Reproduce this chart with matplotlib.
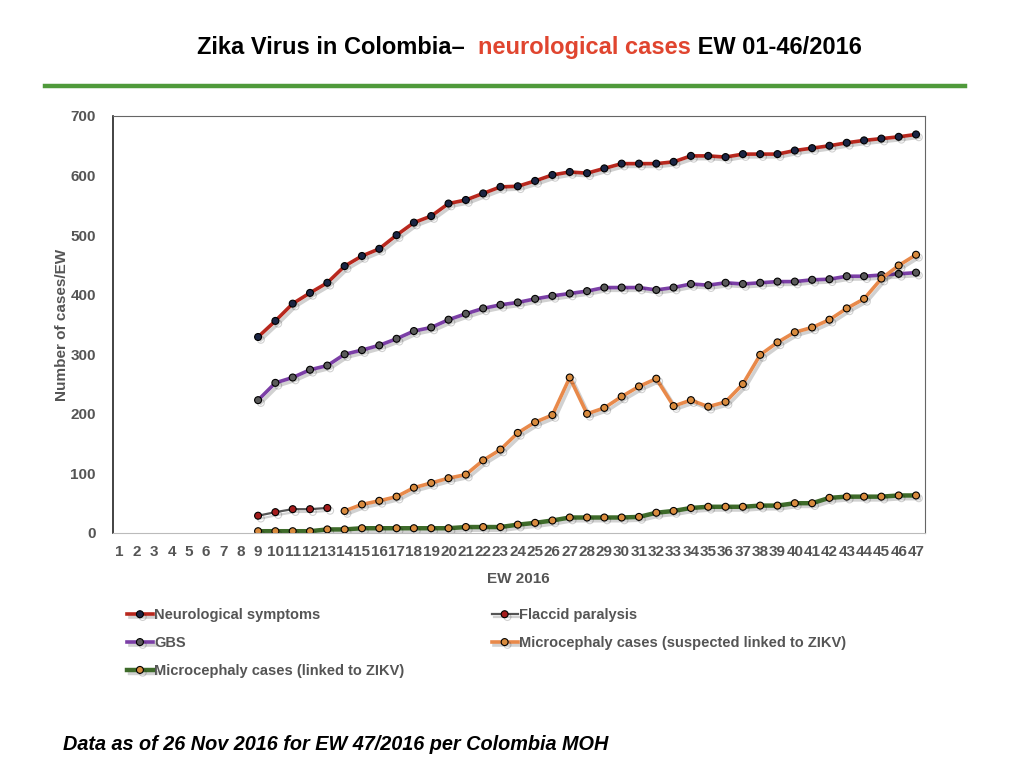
import numpy as np
import matplotlib
matplotlib.use("Agg")
import matplotlib.pyplot as plt
import matplotlib.patheffects as pe

# weeks 1..47 on the axis, data starts at week 9
weeks_axis = list(range(1, 48))
weeks_all = list(range(9, 48))
weeks_flaccid = list(range(9, 14))
weeks_suspected = list(range(14, 48))

neuro = [329, 356, 385, 403, 420, 448, 465, 477, 500, 521, 532, 553, 559, 570, 581, 582,
         591, 601, 606, 604, 612, 620, 620, 620, 623, 633, 633, 631, 636, 636, 636, 642,
         646, 650, 655, 659, 662, 665, 669]
gbs = [223, 252, 261, 274, 281, 300, 307, 315, 326, 339, 345, 358, 368, 377, 383, 387,
       393, 398, 402, 406, 412, 412, 412, 408, 412, 418, 416, 420, 418, 420, 422, 422,
       425, 426, 431, 431, 433, 435, 437]
flaccid = [29, 35, 40, 40, 42]
suspected = [37, 48, 54, 61, 76, 84, 92, 98, 122, 140, 168, 186, 198, 261, 200, 210,
             229, 246, 259, 213, 223, 212, 220, 250, 299, 320, 337, 345, 358, 377, 393,
             427, 449, 467]
linked = [3, 3, 3, 3, 6, 6, 8, 8, 8, 8, 8, 8, 10, 10, 10, 14, 17, 21, 26, 26, 26, 26,
          27, 34, 37, 42, 44, 44, 44, 46, 46, 50, 50, 59, 61, 61, 61, 63, 63]

plt.rcParams['font.family'] = ['Liberation Sans', 'DejaVu Sans']

grey = "#555555"
fig = plt.figure(figsize=(10.24, 7.68), dpi=100)
ax = fig.add_axes([0.110, 0.306, 0.793, 0.543])

shadow = [pe.SimpleLineShadow(offset=(2, -2), alpha=0.18, shadow_color="black"), pe.Normal()]

ax.plot(weeks_all, neuro, color="#b8281e", lw=2.6, marker="o", ms=5,
        mfc="#1b2544", mec="black", mew=0.8, label="Neurological symptoms", path_effects=shadow)
ax.plot(weeks_all, gbs, color="#7b3fa6", lw=2.6, marker="o", ms=5,
        mfc="#5a5a5a", mec="black", mew=0.8, label="GBS", path_effects=shadow)
ax.plot(weeks_all, linked, color="#3e6b2a", lw=3.2, marker="o", ms=5,
        mfc="#d98b3e", mec="black", mew=0.8, label="Microcephaly cases (linked to ZIKV)",
        path_effects=shadow)
ax.plot(weeks_flaccid, flaccid, color="#555555", lw=1.6, marker="o", ms=5,
        mfc="#a41c1c", mec="black", mew=0.8, label="Flaccid paralysis", path_effects=shadow)
ax.plot(weeks_suspected, suspected, color="#e8894a", lw=2.6, marker="o", ms=5,
        mfc="#d98b3e", mec="black", mew=0.8,
        label="Microcephaly cases (suspected linked to ZIKV)", path_effects=shadow)

ax.set_xlim(0.6, 47.5)
ax.set_ylim(0, 700)
ax.set_xticks(weeks_axis)
ax.set_xticklabels([str(w) for w in weeks_axis])
ax.set_yticks(range(0, 701, 100))
ax.tick_params(axis="both", length=0, labelsize=11, labelcolor=grey)
ax.tick_params(axis="x", pad=9)
ax.tick_params(axis="y", pad=12)
for lab in ax.get_xticklabels() + ax.get_yticklabels():
    lab.set_fontweight("bold")

ax.spines["left"].set_color("#222222")
ax.spines["left"].set_linewidth(1.2)
ax.spines["top"].set_color("#666666")
ax.spines["right"].set_color("#666666")
ax.spines["bottom"].set_color("#bbbbbb")

ax.set_xlabel("EW 2016", fontsize=11, fontweight="bold", color=grey, labelpad=9)
ax.set_ylabel("Number of cases/EW", fontsize=11, fontweight="bold", color=grey, labelpad=1)

fig.legend(loc="upper left", bbox_to_anchor=(0.111, 0.225), ncol=2, frameon=False,
           prop={"size": 10.5, "weight": "bold"}, labelcolor=grey, handlelength=1.8,
           handletextpad=0.1, columnspacing=5.95, labelspacing=0.95)

# title in three coloured pieces
fig.canvas.draw()
r = fig.canvas.get_renderer()
parts = [("Zika Virus in Colombia\u2013  ", "black"), ("neurological cases", "#e0452f"),
         (" EW 01-46/2016", "black")]
x0 = 197 / 1024
for txt, col in parts:
    t = fig.text(x0, 1 - 54 / 768, txt, color=col, fontsize=17, fontweight="bold",
                 va="baseline", ha="left")
    bb = t.get_window_extent(renderer=r)
    x0 += bb.width / fig.bbox.width

fig.add_artist(plt.Line2D([45 / 1024, 965 / 1024], [1 - 86 / 768, 1 - 86 / 768],
                          color="#4f9a3b", lw=3.2, transform=fig.transFigure))

fig.text(63 / 1024, 1 - 750 / 768, "Data as of 26 Nov 2016 for EW 47/2016 per Colombia MOH",
         fontsize=14.3, fontweight="bold", fontstyle="italic", color="black")

fig.savefig("out.png", dpi=100)
